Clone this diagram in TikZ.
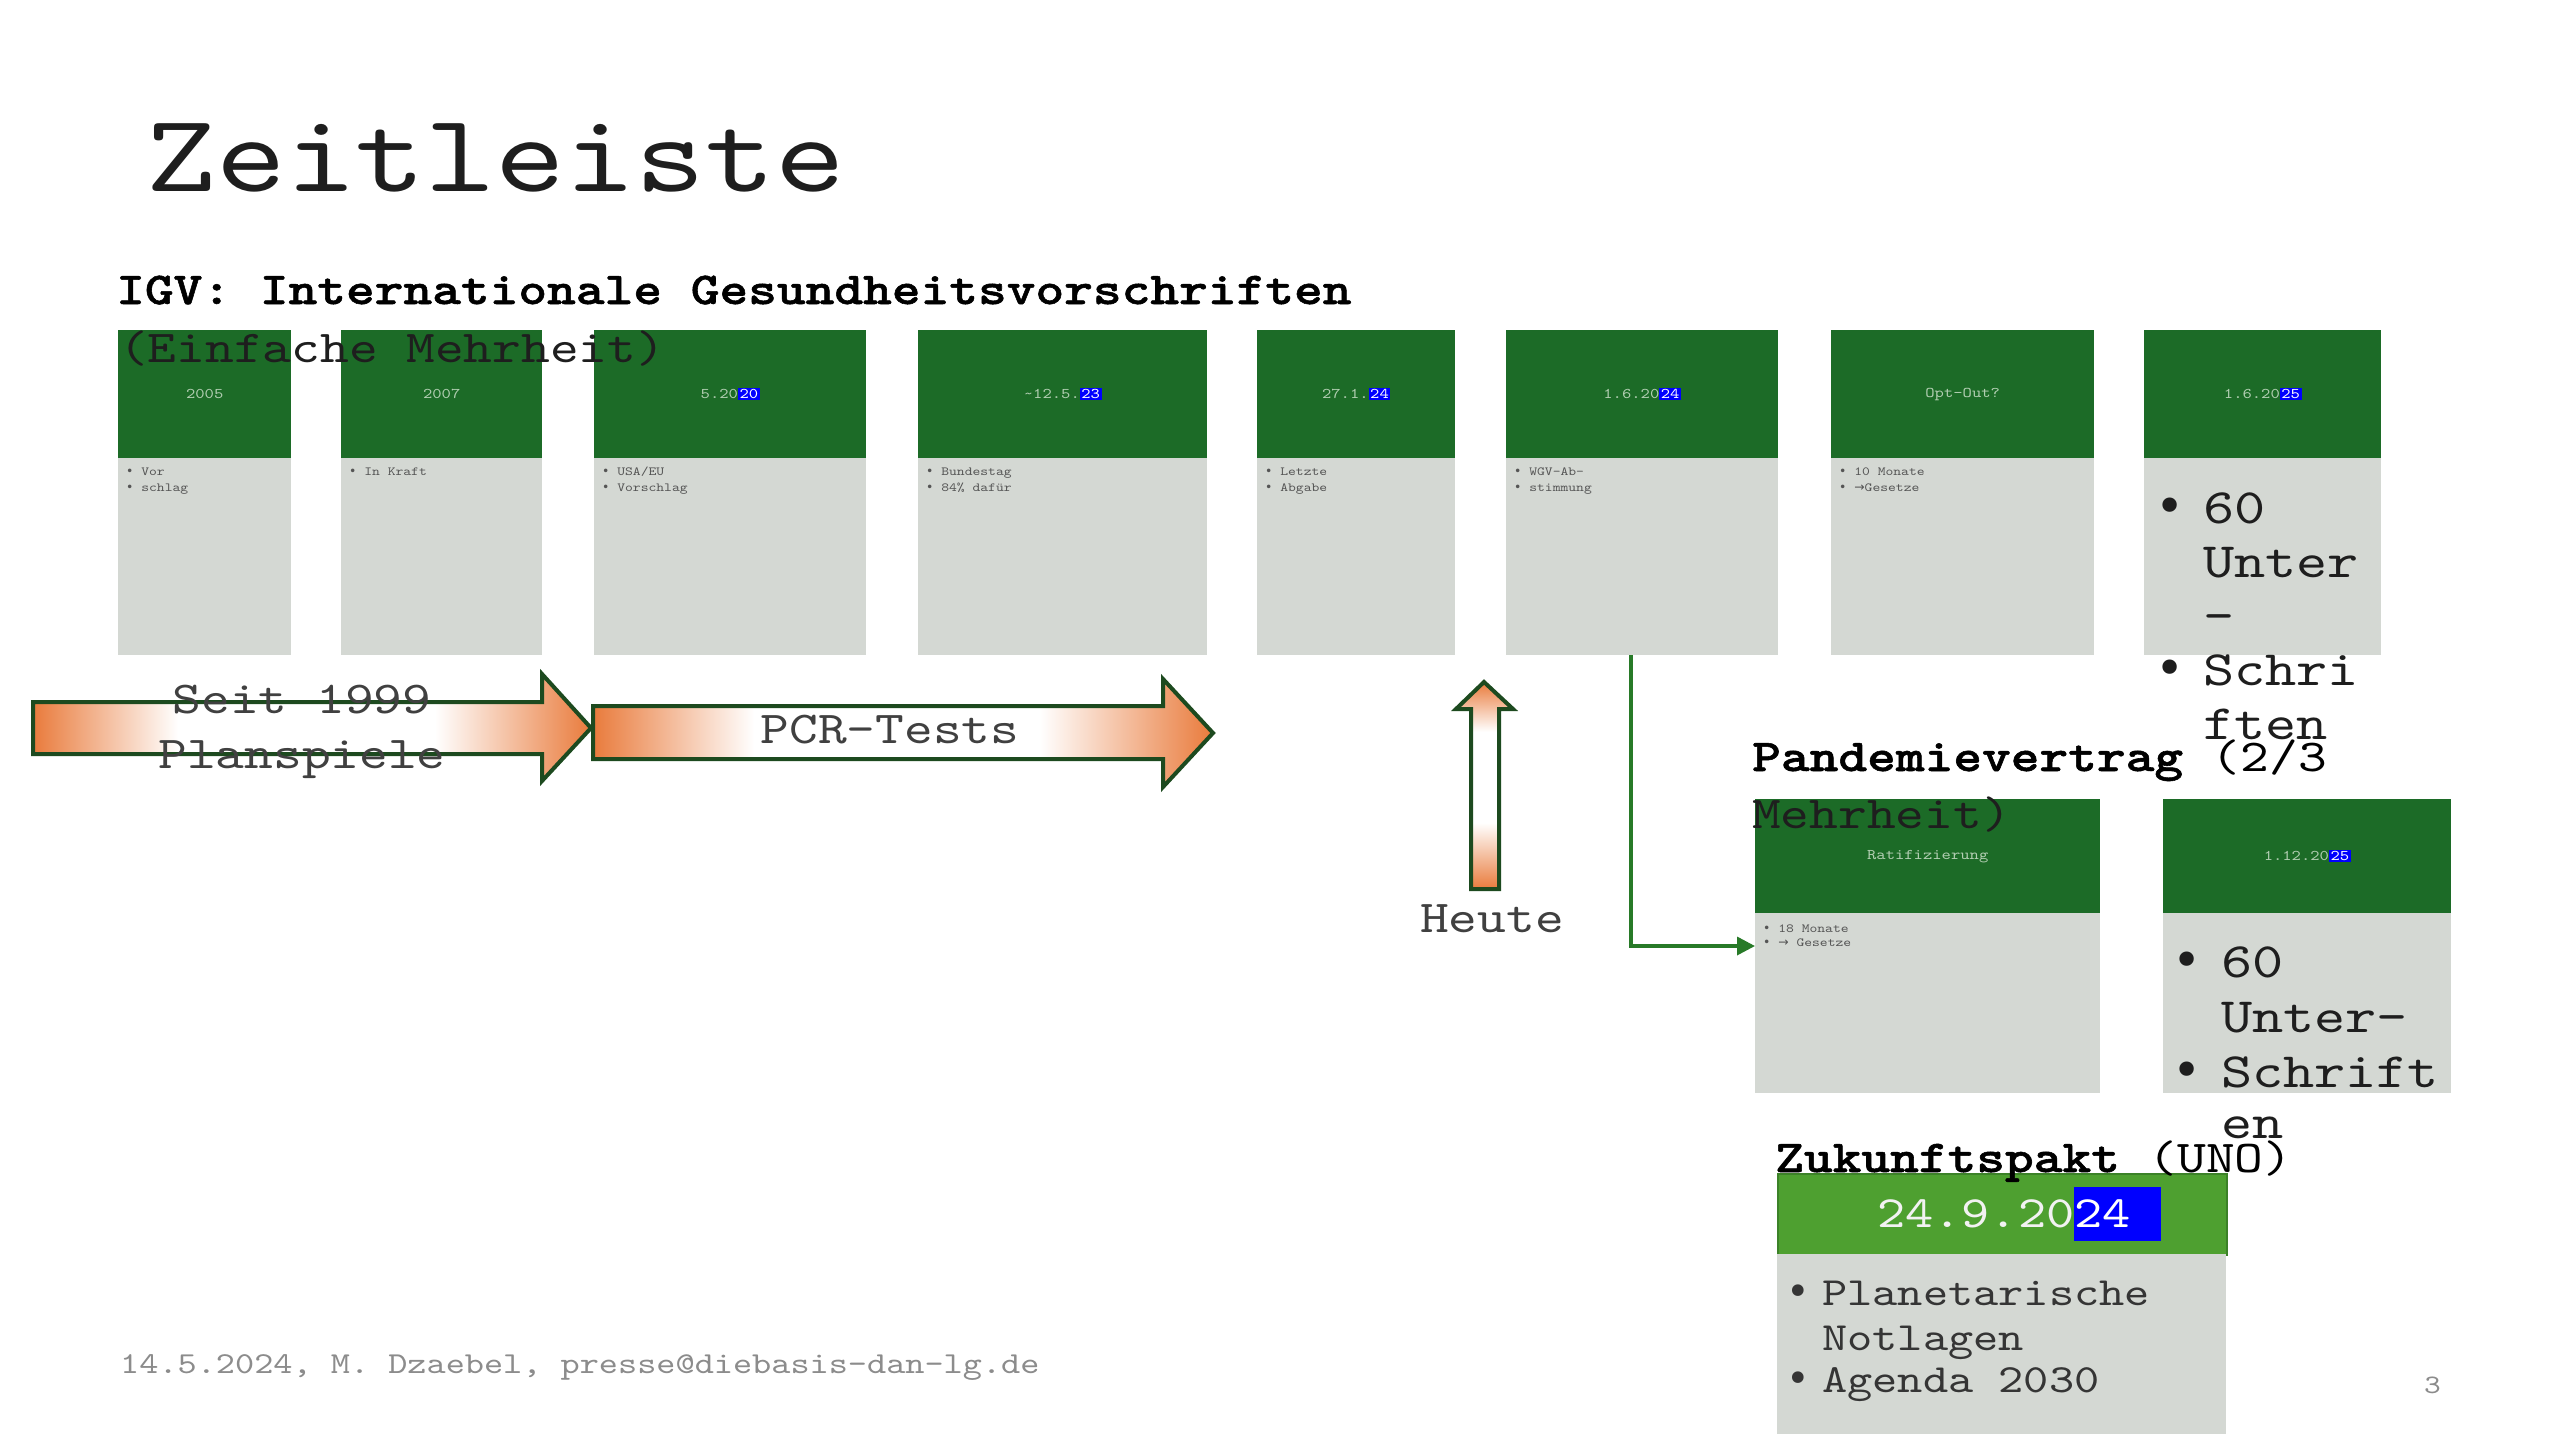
\documentclass[tikz,border=0pt]{standalone}
\usepackage{fontspec}
\setmainfont{lmmono10-regular.otf}[FakeStretch=1.2, BoldFont=lmmonolt10-bold.otf, BoldFeatures={FakeBold=1.2}]
\newfontfamily\symf{DejaVu Sans}
\usetikzlibrary{arrows.meta}
\definecolor{hdrgreen}{RGB}{28,107,39}
\definecolor{hdrtxt}{RGB}{178,206,178}
\definecolor{bodgrey}{RGB}{212,216,211}
\definecolor{smallgrey}{RGB}{85,85,85}
\definecolor{hlblue}{RGB}{0,0,255}
\definecolor{zgreen}{RGB}{78,160,48}
\definecolor{zborder}{RGB}{60,130,40}
\definecolor{arrorange}{RGB}{233,123,60}
\definecolor{arroutline}{RGB}{29,74,31}
\definecolor{conngreen}{RGB}{40,122,40}
\definecolor{textdark}{RGB}{30,30,30}
\definecolor{footgrey}{RGB}{140,140,140}
\pgfdeclarehorizontalshading{harrowshade}{100bp}{color(0bp)=(arrorange); color(25bp)=(arrorange); color(38bp)=(white); color(61bp)=(white); color(75bp)=(arrorange); color(100bp)=(arrorange)}
\pgfdeclareverticalshading{varrowshade}{100bp}{color(0bp)=(arrorange); color(25bp)=(arrorange); color(41bp)=(white); color(63bp)=(white); color(75bp)=(arrorange); color(100bp)=(arrorange)}
\newcommand{\hlb}[1]{{\fboxsep=1.5pt\colorbox{hlblue}{\textcolor{white}{#1}}}}
\newcommand{\hlz}[1]{{\fboxsep=0pt\colorbox{hlblue}{\rule[-14pt]{0pt}{54pt}\textcolor{white}{#1}\hspace{30pt}}}}
\newcommand{\bul}{{\symf •}}
\newcommand{\arr}{{\symf →}}
\begin{document}
\begin{tikzpicture}[x=1pt,y=-1pt,
  hdr/.style={fill=hdrgreen, anchor=north west, inner sep=0pt, minimum height=128pt, text=hdrtxt, font=\fontsize{14.8}{18}\selectfont},
  bod/.style={fill=bodgrey, anchor=north west, inner sep=0pt, minimum height=197pt},
  smallbul/.style={anchor=base west, inner sep=0pt, text=smallgrey, font=\fontsize{12.4}{16}\selectfont},
  bigtxt/.style={anchor=base west, inner sep=0pt, text=textdark, font=\fontsize{49.4}{54}\selectfont},
  headtxt/.style={anchor=base west, inner sep=0pt, text=black, font=\fontsize{45.6}{57}\selectfont},
  arrtxt/.style={anchor=base, inner sep=0pt, text=textdark!85, font=\fontsize{45.6}{55}\selectfont},
  fatarrow/.style={draw=arroutline, line width=4pt, line join=miter, shading=harrowshade},
  conn/.style={draw=conngreen, line width=3.5pt, -{Triangle[length=18pt,width=18pt]}}
]
\useasboundingbox (0,0) rectangle (2560,1440);
\fill[white] (0,0) rectangle (2560,1440);

% Title
\node[anchor=base west, inner sep=0pt, text=textdark, font=\fontsize{111}{130}\selectfont] (title) at (146,191) {Zeitleiste};

% IGV boxes
\node[hdr, minimum width=173pt] (h1) at (118,330) {2005};
\node[bod, minimum width=173pt] (b1) at (118,458) {};
\node[hdr, minimum width=201pt] (h2) at (341,330) {2007};
\node[bod, minimum width=201pt] (b2) at (341,458) {};
\node[hdr, minimum width=272pt] (h3) at (594,330) {5.20\hlb{20}};
\node[bod, minimum width=272pt] (b3) at (594,458) {};
\node[hdr, minimum width=289pt] (h4) at (918,330) {\textasciitilde12.5.\hlb{23}};
\node[bod, minimum width=289pt] (b4) at (918,458) {};
\node[hdr, minimum width=198pt] (h5) at (1257,330) {27.1.\hlb{24}};
\node[bod, minimum width=198pt] (b5) at (1257,458) {};
\node[hdr, minimum width=272pt] (h6) at (1506,330) {1.6.20\hlb{24}};
\node[bod, minimum width=272pt] (b6) at (1506,458) {};
\node[hdr, minimum width=263pt] (h7) at (1831,330) {Opt-Out?};
\node[bod, minimum width=263pt] (b7) at (1831,458) {};
\node[hdr, minimum width=237pt] (h8) at (2144,330) {1.6.20\hlb{25}};
\node[bod, minimum width=237pt] (b8) at (2144,458) {};

% small bullets
\node[smallbul] (t1a) at (126,475) {\bul{} Vor};
\node[smallbul] (t1b) at (126,491) {\bul{} schlag};
\node[smallbul] (t2a) at (349,475) {\bul{} In Kraft};
\node[smallbul] (t3a) at (602,475) {\bul{} USA/EU};
\node[smallbul] (t3b) at (602,491) {\bul{} Vorschlag};
\node[smallbul] (t4a) at (926,475) {\bul{} Bundestag};
\node[smallbul] (t4b) at (926,491) {\bul{} 84\% dafür};
\node[smallbul] (t5a) at (1265,475) {\bul{} Letzte};
\node[smallbul] (t5b) at (1265,491) {\bul{} Abgabe};
\node[smallbul] (t6a) at (1514,475) {\bul{} WGV-Ab-};
\node[smallbul] (t6b) at (1514,491) {\bul{} stimmung};
\node[smallbul] (t7a) at (1839,475) {\bul{} 10 Monate};
\node[smallbul] (t7b) at (1839,491) {\bul{} \arr{}Gesetze};

% Box 8 big text
\node[bigtxt] (t8a) at (2155,523) {\makebox[48pt][l]{\bul}60};
\node[bigtxt] (t8b) at (2203,577) {Unter};
\node[bigtxt] (t8c) at (2203,631) {-};
\node[bigtxt] (t8d) at (2155,685) {\makebox[48pt][l]{\bul}Schri};
\node[bigtxt] (t8e) at (2203,739) {ften};

% IGV heading
\node[headtxt, font=\bfseries\fontsize{45.6}{57}\selectfont] (igv) at (116,304) {IGV: Internationale Gesundheitsvorschriften};
\node[headtxt, text=textdark] (igvsub) at (119,362) {(Einfache Mehrheit)};

% fat arrows
\path[fatarrow] (33,702) -- (542,702) -- (542,674) -- (591,728) -- (542,781) -- (542,754) -- (33,754) -- cycle;
\path[fatarrow] (593,706) -- (1163,706) -- (1163,679) -- (1213,733) -- (1163,787) -- (1163,759) -- (593,759) -- cycle;
\node[arrtxt] (seit) at (302,713) {Seit 1999};
\node[arrtxt] (plan) at (302,768) {Planspiele};
\node[arrtxt] (pcr) at (890,743) {PCR-Tests};

% Heute arrow
\path[draw=arroutline, line width=4pt, line join=miter, shading=varrowshade] (1471,889) -- (1471,709) -- (1456,709) -- (1484,682) -- (1513,709) -- (1499,709) -- (1499,889) -- cycle;
\node[arrtxt] (heute) at (1492,932) {Heute};

% Pandemievertrag boxes
\node[hdr, minimum width=345pt, minimum height=114pt] (p1h) at (1755,799) {Ratifizierung};
\node[bod, minimum width=345pt, minimum height=180pt] (p1b) at (1755,913) {};
\node[hdr, minimum width=288pt, minimum height=114pt] (p2h) at (2163,799) {1.12.20\hlb{25}};
\node[bod, minimum width=288pt, minimum height=180pt] (p2b) at (2163,913) {};
\node[smallbul] (tp1a) at (1763,932) {\bul{} 18 Monate};
\node[smallbul] (tp1b) at (1763,946) {\bul{} \arr{} Gesetze};
\node[bigtxt] (tp2a) at (2172,977) {\makebox[49pt][l]{\bul}60};
\node[bigtxt] (tp2b) at (2221,1032) {Unter-};
\node[bigtxt] (tp2c) at (2172,1087) {\makebox[49pt][l]{\bul}Schrift};
\node[bigtxt] (tp2d) at (2221,1138) {en};

\node[headtxt] (pand) at (1752,771) {\textbf{Pandemievertrag} (2/3};
\node[headtxt, text=textdark] (pandsub) at (1752,828) {Mehrheit)};

% connector
\draw[conn] ([xshift=-11pt]b6.south) |- ([yshift=-33pt]p1b.north west);

% Zukunftspakt
\node[fill=zgreen, draw=zborder, line width=2pt, anchor=north west, inner sep=0pt, minimum width=449pt, minimum height=81pt] (zh) at (1777,1173) {};
\node[bod, minimum width=449pt, minimum height=180pt] (zb) at (1777,1254) {};
\node[anchor=base west, inner sep=0pt, text=white!95!black, font=\fontsize{44.7}{54}\selectfont] (zdate) at (1877,1227) {24.9.20\hlz{24}};
\node[anchor=base west, inner sep=0pt, text=textdark!90, font=\fontsize{40}{44}\selectfont] (z1) at (1786,1305) {\makebox[36pt][l]{\bul}Planetarische};
\node[anchor=base west, inner sep=0pt, text=textdark!90, font=\fontsize{40}{44}\selectfont] (z2) at (1822,1350) {Notlagen};
\node[anchor=base west, inner sep=0pt, text=textdark!90, font=\fontsize{40}{44}\selectfont] (z3) at (1786,1392) {\makebox[36pt][l]{\bul}Agenda 2030};
\node[headtxt] (zuk) at (1775,1172) {\textbf{Zukunftspakt} (UNO)};

% footer
\node[anchor=base west, inner sep=0pt, text=footgrey, font=\fontsize{30.4}{36}\selectfont] (foot) at (120,1373) {14.5.2024, M. Dzaebel, presse@diebasis-dan-lg.de};
\node[anchor=base west, inner sep=0pt, text=footgrey, font=\fontsize{26.6}{32}\selectfont] (pnum) at (2424,1393) {3};
\end{tikzpicture}
\end{document}
